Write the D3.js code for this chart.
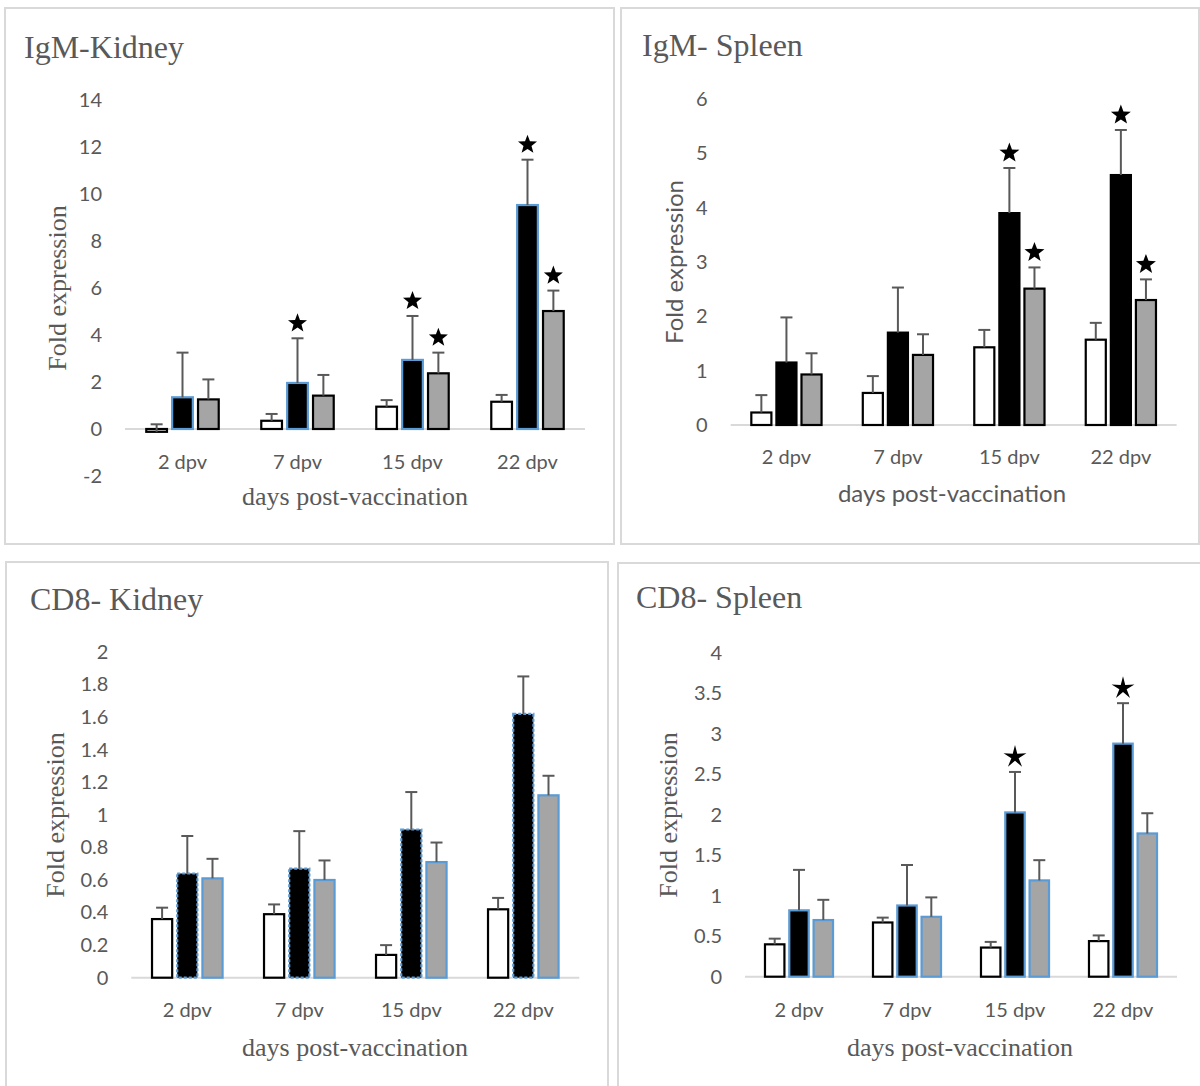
<!DOCTYPE html>
<html>
<head>
<meta charset="utf-8">
<script src="https://cdn.jsdelivr.net/npm/d3@7"></script>
<style>
  body { margin: 0; background: #fff; }
  svg { display: block; }
</style>
</head>
<body>
<svg id="chart" width="1200" height="1086"></svg>
<script>
// categories and series
const days = ["2 dpv", "7 dpv", "15 dpv", "22 dpv"];
const seriesKeys = ["s1", "s2", "s3"];
const seriesFill = ["#ffffff", "#000000", "#a5a5a5"];

// IgM - kidney (rows = series, cols = days)
const igmKidneyMean = [[-0.12, 0.35, 0.95, 1.16], [1.35, 1.96, 2.94, 9.53], [1.26, 1.42, 2.37, 5.02]];
const igmKidneyErr  = [[0.32, 0.29, 0.28, 0.29], [1.9, 1.9, 1.87, 1.93], [0.85, 0.88, 0.88, 0.87]];
const igmKidneyStar = [[0, 0, 0, 0], [0, 1, 1, 1], [0, 0, 1, 1]];
const igmKidneyTicks = [-2, 0, 2, 4, 6, 8, 10, 12, 14];

// IgM - spleen
const igmSpleenMean = [[0.23, 0.59, 1.43, 1.57], [1.15, 1.7, 3.9, 4.6], [0.93, 1.29, 2.51, 2.3]];
const igmSpleenErr  = [[0.32, 0.31, 0.32, 0.31], [0.83, 0.83, 0.83, 0.83], [0.39, 0.38, 0.39, 0.38]];
const igmSpleenStar = [[0, 0, 0, 0], [0, 0, 1, 1], [0, 0, 1, 1]];
const igmSpleenTicks = [0, 1, 2, 3, 4, 5, 6];

// CD8 - kidney
const cd8KidneyMean = [[0.36, 0.39, 0.14, 0.42], [0.64, 0.67, 0.91, 1.62], [0.61, 0.6, 0.71, 1.12]];
const cd8KidneyErr  = [[0.07, 0.06, 0.06, 0.07], [0.23, 0.23, 0.23, 0.23], [0.12, 0.12, 0.12, 0.12]];
const cd8KidneyStar = [[0, 0, 0, 0], [0, 0, 0, 0], [0, 0, 0, 0]];
const cd8KidneyTicks = [0, 0.2, 0.4, 0.6, 0.8, 1, 1.2, 1.4, 1.6, 1.8, 2];

// CD8 - spleen
const cd8SpleenMean = [[0.4, 0.67, 0.36, 0.44], [0.82, 0.88, 2.03, 2.88], [0.7, 0.74, 1.19, 1.77]];
const cd8SpleenErr  = [[0.07, 0.06, 0.07, 0.07], [0.5, 0.5, 0.5, 0.5], [0.25, 0.24, 0.25, 0.25]];
const cd8SpleenStar = [[0, 0, 0, 0], [0, 0, 1, 1], [0, 0, 0, 0]];
const cd8SpleenTicks = [0, 0.5, 1, 1.5, 2, 2.5, 3, 3.5, 4];

const serif = "'Liberation Serif', 'Times New Roman', serif";
const sans = "Lato, 'Open Sans', sans-serif";
const textColor = "#595959";
const blue = "#5b9bd5";

const panels = [
  { title: "IgM-Kidney", mean: igmKidneyMean, err: igmKidneyErr, star: igmKidneyStar, ticks: igmKidneyTicks,
    frame: [5, 8, 609, 536], xr: [125, 585], yr: [476, 100], titlePos: [24, 58],
    yLab: [57, 288, serif], xLab: [355, 505, serif], catPad: 26,
    stroke: ["#000", blue, "#000"], dash: [null, null, null], starR: 10, starK: 0.42 },
  { title: "IgM- Spleen", mean: igmSpleenMean, err: igmSpleenErr, star: igmSpleenStar, ticks: igmSpleenTicks,
    frame: [621, 8, 578, 536], xr: [730.7, 1176.6], yr: [425, 99], titlePos: [642, 56],
    yLab: [675, 262, sans], xLab: [952, 502, sans], catPad: 25,
    stroke: ["#000", "#000", "#000"], dash: [null, null, null], starR: 10.5, starK: 0.42 },
  { title: "CD8- Kidney", mean: cd8KidneyMean, err: cd8KidneyErr, star: cd8KidneyStar, ticks: cd8KidneyTicks,
    frame: [6, 562, 602, 530], xr: [131.3, 579.3], yr: [977.7, 652], titlePos: [30, 610],
    yLab: [55, 815, serif], xLab: [355, 1056, serif], catPad: 25,
    stroke: ["#000", blue, blue], dash: [null, "3,2", null], starR: 10, starK: 0.42 },
  { title: "CD8- Spleen", mean: cd8SpleenMean, err: cd8SpleenErr, star: cd8SpleenStar, ticks: cd8SpleenTicks,
    frame: [618, 563, 585, 530], xr: [745, 1177], yr: [976.7, 653], titlePos: [636, 608],
    yLab: [668, 815, serif], xLab: [960, 1056, serif], catPad: 26,
    stroke: ["#000", blue, blue], dash: [null, null, null], starR: 12, starK: 0.32 }
];

// five point star centred on 0,0
const starPath = (r, k) => {
  const pts = d3.range(10).map(i => {
    const a = -Math.PI / 2 + i * Math.PI / 5;
    const rr = i % 2 ? r * k : r;
    return [rr * Math.cos(a), rr * Math.sin(a)];
  });
  return "M" + pts.map(p => p.join(",")).join("L") + "Z";
};

const svg = d3.select("#chart");

panels.forEach(p => {
  const g = svg.append("g");

  g.append("rect")
    .attr("x", p.frame[0]).attr("y", p.frame[1])
    .attr("width", p.frame[2]).attr("height", p.frame[3])
    .attr("fill", "none").attr("stroke", "#d9d9d9").attr("stroke-width", 2);

  g.append("text")
    .attr("x", p.titlePos[0]).attr("y", p.titlePos[1])
    .style("font-family", serif).style("font-size", "32px").style("fill", textColor)
    .text(p.title);

  const x0 = d3.scaleBand().domain(days).range(p.xr).paddingInner(0.37).paddingOuter(0.185);
  const x1 = d3.scaleBand().domain(seriesKeys).range([0, x0.bandwidth()]).paddingInner(0.2);
  const y = d3.scaleLinear().domain(d3.extent(p.ticks)).range(p.yr);

  // y tick labels
  const yAxisG = g.append("g")
    .attr("transform", `translate(${p.xr[0]},0)`)
    .call(d3.axisLeft(y).tickValues(p.ticks).tickSize(0).tickPadding(23)
      .tickFormat(d => String(+d.toFixed(2))));
  yAxisG.select(".domain").remove();
  yAxisG.selectAll("text").style("font-family", sans).style("font-size", "20px").style("fill", textColor);

  // zero line
  g.append("line")
    .attr("x1", p.xr[0]).attr("x2", p.xr[1])
    .attr("y1", y(0)).attr("y2", y(0))
    .attr("stroke", "#d9d9d9").attr("stroke-width", 2);

  // category labels
  const xAxisG = g.append("g")
    .attr("transform", `translate(0,${y(0)})`)
    .call(d3.axisBottom(x0).tickSize(0).tickPadding(p.catPad));
  xAxisG.select(".domain").remove();
  xAxisG.selectAll("text").style("font-family", sans).style("font-size", "20px").style("fill", textColor);

  seriesKeys.forEach((s, si) => {
    const rows = days.map((d, di) => ({
      day: d, v: p.mean[si][di], e: p.err[si][di], star: p.star[si][di]
    }));
    const cx = d => x0(d.day) + x1(s) + x1.bandwidth() / 2;

    g.append("g").selectAll("rect").data(rows).join("rect")
      .attr("x", d => x0(d.day) + x1(s))
      .attr("y", d => y(Math.max(d.v, 0)))
      .attr("width", x1.bandwidth())
      .attr("height", d => Math.abs(y(d.v) - y(0)))
      .attr("fill", seriesFill[si])
      .attr("stroke", p.stroke[si])
      .attr("stroke-width", 2.2)
      .attr("stroke-dasharray", p.dash[si]);

    const eg = g.append("g").attr("stroke", "#595959").attr("stroke-width", 2);
    eg.selectAll("line.v").data(rows).join("line").attr("class", "v")
      .attr("x1", cx).attr("x2", cx)
      .attr("y1", d => y(d.v)).attr("y2", d => y(d.v + d.e));
    eg.selectAll("line.c").data(rows).join("line").attr("class", "c")
      .attr("x1", d => cx(d) - 6).attr("x2", d => cx(d) + 6)
      .attr("y1", d => y(d.v + d.e)).attr("y2", d => y(d.v + d.e));

    g.append("g").selectAll("path").data(rows.filter(d => d.star)).join("path")
      .attr("transform", d => `translate(${cx(d)},${y(d.v + d.e) - 15})`)
      .attr("d", starPath(p.starR, p.starK))
      .attr("fill", "#000");
  });

  g.append("text")
    .attr("transform", `translate(${p.yLab[0]},${p.yLab[1]}) rotate(-90)`)
    .attr("text-anchor", "middle").attr("dy", "0.35em")
    .style("font-family", p.yLab[2]).style("font-size", p.yLab[2] === sans ? "24px" : "26px")
    .style("fill", textColor)
    .text("Fold expression");

  g.append("text")
    .attr("x", p.xLab[0]).attr("y", p.xLab[1])
    .attr("text-anchor", "middle")
    .style("font-family", p.xLab[2]).style("font-size", p.xLab[2] === sans ? "24px" : "26px")
    .style("fill", textColor)
    .text("days post-vaccination");
});
</script>
</body>
</html>
